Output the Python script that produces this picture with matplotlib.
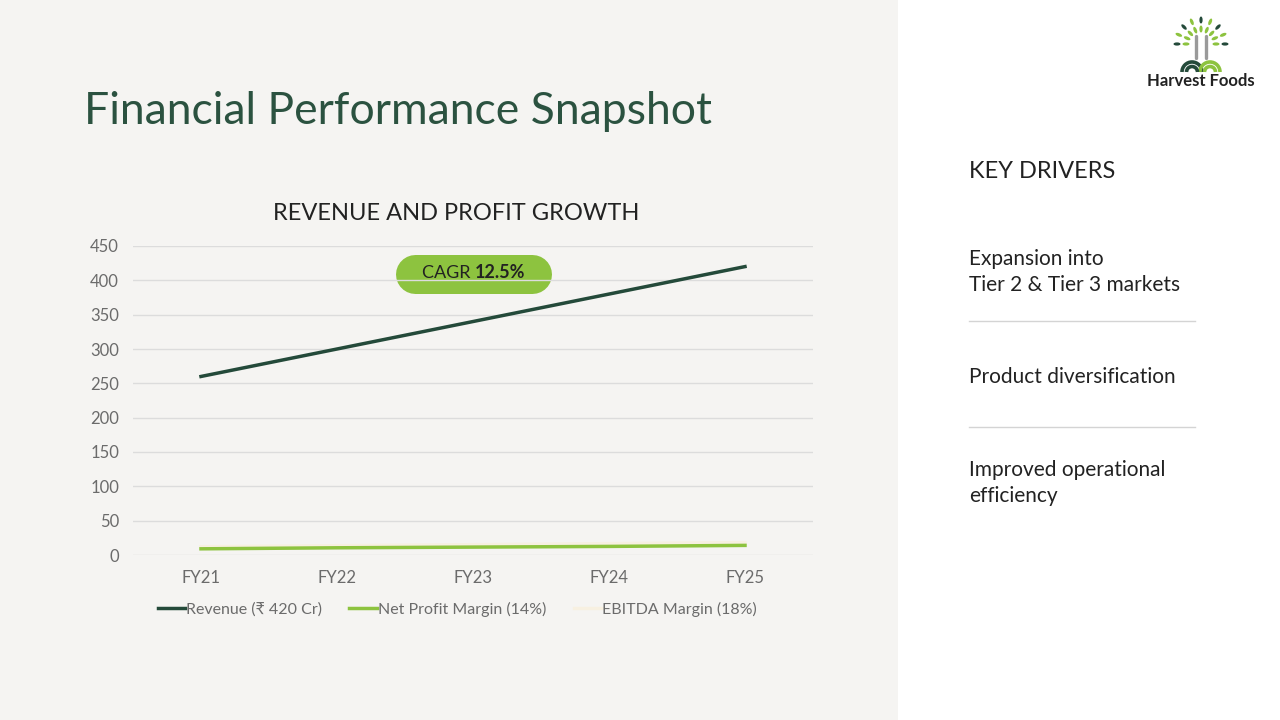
""" Financial performance snapshot slide """

import matplotlib.pyplot as plt
from matplotlib.patches import Rectangle, Ellipse, Arc
import numpy as np

plt.rcParams['font.family'] = ['Lato', 'DejaVu Sans']

# Data
years = ["FY21", "FY22", "FY23", "FY24", "FY25"]
revenue = [260, 300, 340, 380, 420]
net_margin = [9, 10.5, 11.5, 12.5, 14]
ebitda_margin = [12, 13.5, 15, 16.5, 18]
yticks = [0, 50, 100, 150, 200, 250, 300, 350, 400, 450]
drivers = ["Expansion into\nTier 2 & Tier 3 markets",
           "Product diversification",
           "Improved operational\nefficiency"]

# Colours
dark_green = "#244a3a"
leaf_green = "#8dc33f"
cream = "#f7f0e1"
panel = "#f5f4f2"
grey_txt = "#6b6b6b"

fig = plt.figure(figsize=(12.8, 7.2), dpi=100)
fig.patch.set_facecolor("white")

# Background overlay in pixel coords
bg = fig.add_axes([0, 0, 1, 1])
bg.set_xlim(0, 1280)
bg.set_ylim(720, 0)
bg.axis("off")
bg.add_patch(Rectangle((0, 0), 898, 720, facecolor=panel, edgecolor="none"))

bg.text(84, 112, "Financial Performance Snapshot", fontsize=32, color="#2b5240",
        va="center", ha="left")
bg.text(456, 213, "REVENUE AND PROFIT GROWTH", fontsize=17, color="#222222",
        va="center", ha="center")

# Key drivers panel
bg.text(969, 172, "KEY DRIVERS", fontsize=17, color="#222222", va="center", ha="left")
driver_y = [272, 377, 483]
for txt, yy in zip(drivers, driver_y):
    bg.text(969, yy, txt, fontsize=15, color="#222222", va="center", ha="left",
            linespacing=1.42)
for yy in [321, 427]:
    bg.plot([969, 1195], [yy, yy], color="#d4d4d4", linewidth=1)

# Logo
cx, cy = 1201, 44
for k, a in enumerate(np.linspace(-180, 0, 9)):
    r = np.radians(a)
    outer = dark_green if k % 2 == 0 else leaf_green
    for rad, col in [(24, outer), (15, leaf_green)]:
        ex = cx + rad * np.cos(r)
        ey = cy + rad * np.sin(r)
        bg.add_patch(Ellipse((ex, ey), 7, 3.2, angle=a, facecolor=col, edgecolor="none"))
bg.plot([1196, 1196], [36, 58], color="#9a9a9a", linewidth=2.4, solid_capstyle="round")
bg.plot([1206, 1206], [36, 58], color="#9a9a9a", linewidth=2.4, solid_capstyle="round")
for r in [20, 11]:
    bg.add_patch(Arc((1192, 72), r, r, theta1=180, theta2=360, color=dark_green, linewidth=2.6))
    bg.add_patch(Arc((1210, 72), r, r, theta1=180, theta2=360, color=leaf_green, linewidth=2.6))
bg.text(1201, 81, "Harvest Foods", fontsize=12, fontweight="bold", color="#222222",
        ha="center", va="center")

# Chart
ax = fig.add_axes([133 / 1280, (720 - 555) / 720, 680 / 1280, 309 / 720])
ax.set_facecolor("none")
x = range(len(years))
ax.plot(x, ebitda_margin, color=cream, linewidth=2.5, label="EBITDA Margin (18%)", zorder=2)
ax.plot(x, net_margin, color=leaf_green, linewidth=2.5, label="Net Profit Margin (14%)", zorder=3)
ax.plot(x, revenue, color=dark_green, linewidth=2.5, label="Revenue (\u20b9 420 Cr)", zorder=4)
ax.set_xlim(-0.5, 4.5)
ax.set_ylim(0, 450)
ax.set_yticks(yticks)
ax.set_xticks(list(x))
ax.set_xticklabels(years)
ax.grid(axis="y", color="#dcdcdc", linewidth=1)
ax.set_axisbelow(True)
for s in ax.spines.values():
    s.set_visible(False)
ax.tick_params(length=0, labelsize=12, labelcolor=grey_txt)
ax.tick_params(axis="y", pad=10)
ax.tick_params(axis="x", pad=11)

# Legend in original order
h, l = ax.get_legend_handles_labels()
order = [2, 1, 0]
ax.legend([h[i] for i in order], [l[i] for i in order], loc="upper center",
          bbox_to_anchor=(0.477, -0.105), ncol=3, frameon=False, fontsize=11.5,
          labelcolor=grey_txt, handlelength=1.75, handletextpad=0.05, columnspacing=1.7)

# CAGR pill (thick round-capped line, 39 px tall)
bg.plot([414.5, 531.5], [273.5, 273.5], color=leaf_green, linewidth=39 * 72 / 100,
        solid_capstyle="round")
bg.text(475, 273, "CAGR ", fontsize=13, color="#222222", ha="right", va="center")
bg.text(475, 273, "12.5%", fontsize=13, color="#222222", ha="left", va="center",
        fontweight="bold")

plt.savefig("out.png", dpi=100, facecolor=fig.get_facecolor())
